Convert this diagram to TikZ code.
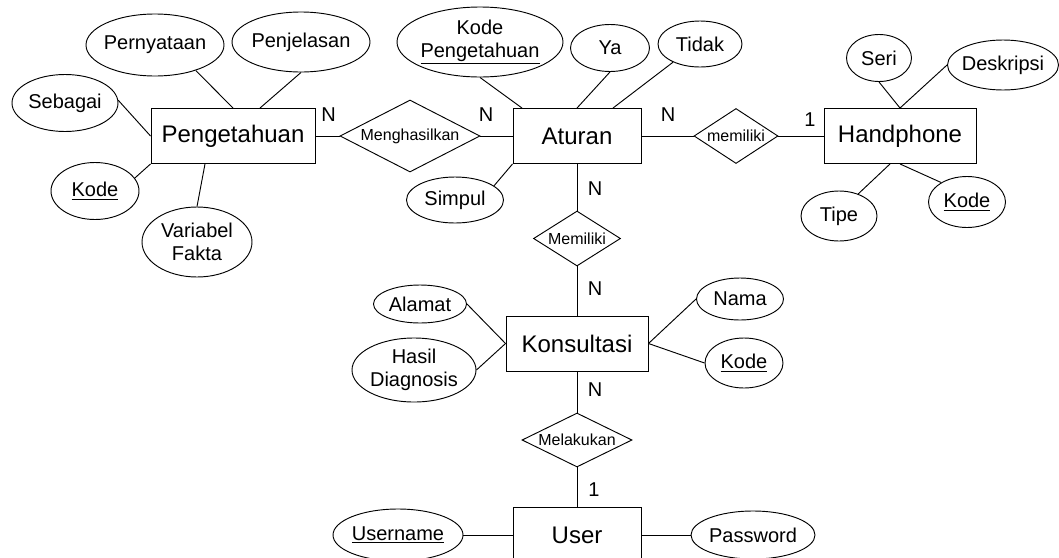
\documentclass[tikz,border=0pt]{standalone}
\usepackage{fontspec}
\setmainfont{Liberation Sans}
\usetikzlibrary{shapes.geometric}

\tikzset{
  ln/.style={line width=0.7pt, black},
  entity/.style 2 args={draw, ln, rectangle, minimum width=#1*0.75pt,
    minimum height=#2*0.75pt, inner sep=0pt,
    font=\fontsize{18}{20}\selectfont},
  attrshape/.style 2 args={draw, ln, ellipse, minimum width=#1*0.75pt,
    minimum height=#2*0.75pt, inner sep=0pt},
  attrtext/.style={align=center, inner sep=0pt,
    font=\fontsize{15}{17.5}\selectfont},
  relshape/.style 2 args={draw, ln, diamond, minimum width=#1*0.75pt,
    minimum height=#2*0.75pt, inner sep=0pt},
  reltext/.style={inner sep=0pt, font=\fontsize{12}{14}\selectfont},
  card/.style={inner sep=0pt, font=\fontsize{15}{17}\selectfont},
}

% \attrnode{name}{x,y}{width}{height}{text}
\newcommand\attrnode[5]{%
  \node[attrshape={#3}{#4}, label={[attrtext]center:{#5}}] (#1) at (#2) {};}
% \relnode{name}{x,y}{width}{height}{text}
\newcommand\relnode[5]{%
  \node[relshape={#3}{#4}, label={[reltext]center:{#5}}] (#1) at (#2) {};}

\begin{document}
\begin{tikzpicture}[x=0.75pt, y=-0.75pt]
\useasboundingbox (0,0) rectangle (1059,557);
\clip (0,0) rectangle (1059,557);

% entities
\node[entity={164}{55}] (pk) at (233,136) {Pengetahuan};
\node[entity={128}{55}] (at) at (577,136) {Aturan};
\node[entity={152}{55}] (hp) at (900,136) {Handphone};
\node[entity={142}{55}] (ks) at (577,343.5) {Konsultasi};
\node[entity={128}{56}] (us) at (577,535) {User};

% relationships
\relnode{mh}{410,136}{140}{72}{Menghasilkan}
\relnode{mr}{736,136}{84}{55}{memiliki}
\relnode{mm}{577,238.5}{87}{55}{Memiliki}
\relnode{ml}{577,440}{110}{54}{Melakukan}

% attributes of Pengetahuan
\attrnode{pn}{155,45}{138}{62}{Pernyataan}
\attrnode{pj}{301,42}{138}{60}{Penjelasan}
\attrnode{sb}{65,103}{106}{57}{Sebagai}
\attrnode{pkk}{95,191}{88}{57}{\underline{Kode}}
\attrnode{vf}{197,242}{110}{70}{Variabel\\Fakta}

% attributes of Aturan
\attrnode{kp}{480,42}{166}{70}{Kode\\\underline{Pengetahuan}}
\attrnode{ya}{610,48}{79}{47}{Ya}
\attrnode{td}{700,44}{84}{46}{Tidak}
\attrnode{sp}{455,200}{97}{46}{Simpul}

% attributes of Handphone
\attrnode{se}{879,58}{65}{47}{Seri}
\attrnode{ds}{1003,65}{111}{50}{Deskripsi}
\attrnode{tp}{839,216}{76}{50}{Tipe}
\attrnode{hk}{967,202}{77}{51}{\underline{Kode}}

% attributes of Konsultasi
\attrnode{al}{420,304}{93}{38}{Alamat}
\attrnode{hd}{414,370}{124}{64}{Hasil\\Diagnosis}
\attrnode{nm}{740,299}{87}{42}{Nama}
\attrnode{kk}{744,363}{78}{50}{\underline{Kode}}

% attributes of User
\attrnode{un}{398,535}{130}{52}{\underline{Username}}
\attrnode{pw}{753,535}{124}{48}{Password}

% relationship lines
\draw[ln] (pk.east) -- (mh.west);
\draw[ln] (mh.east) -- (at.west);
\draw[ln] (at.east) -- (mr.west);
\draw[ln] (mr.east) -- (hp.west);
\draw[ln] (at.south) -- (mm.north);
\draw[ln] (mm.south) -- (ks.north);
\draw[ln] (ks.south) -- (ml.north);
\draw[ln] (ml.south) -- (us.north);

% attribute lines
\draw[ln] (pn.-32) -- (pk.north);
\draw[ln] (pj.south) -- ([xshift=27*0.75pt]pk.north);
\draw[ln] (sb.3) -- (pk.west);
\draw[ln] (pkk.18) -- (pk.south west);
\draw[ln] (vf.north) -- ([xshift=-28*0.75pt]pk.south);

\draw[ln] (kp.south) -- ([xshift=-55*0.75pt]at.north);
\draw[ln] (ya.south) -- (at.north);
\draw[ln] (td.-146) -- ([xshift=36*0.75pt]at.north);
\draw[ln] (sp.20) -- (at.south west);

\draw[ln] (se.south) -- (hp.north);
\draw[ln] (ds.west) -- (hp.north);
\draw[ln] (tp.49) -- ([xshift=-10*0.75pt]hp.south);
\draw[ln] (hk.143) -- (hp.south);

\draw[ln] (al.east) -- (ks.west);
\draw[ln] (hd.east) -- (ks.west);
\draw[ln] (nm.west) -- (ks.east);
\draw[ln] (kk.west) -- (ks.east);

\draw[ln] (un.east) -- (us.west);
\draw[ln] (pw.west) -- (us.east);

% cardinalities
\node[card] (c1) at (328.5,115) {N};
\node[card] (c2) at (486,115) {N};
\node[card] (c3) at (668,115) {N};
\node[card] (c4) at (810,120) {1};
\node[card] (c5) at (595,189) {N};
\node[card] (c6) at (595,289) {N};
\node[card] (c7) at (595,390) {N};
\node[card] (c8) at (594,490) {1};
\end{tikzpicture}
\end{document}
